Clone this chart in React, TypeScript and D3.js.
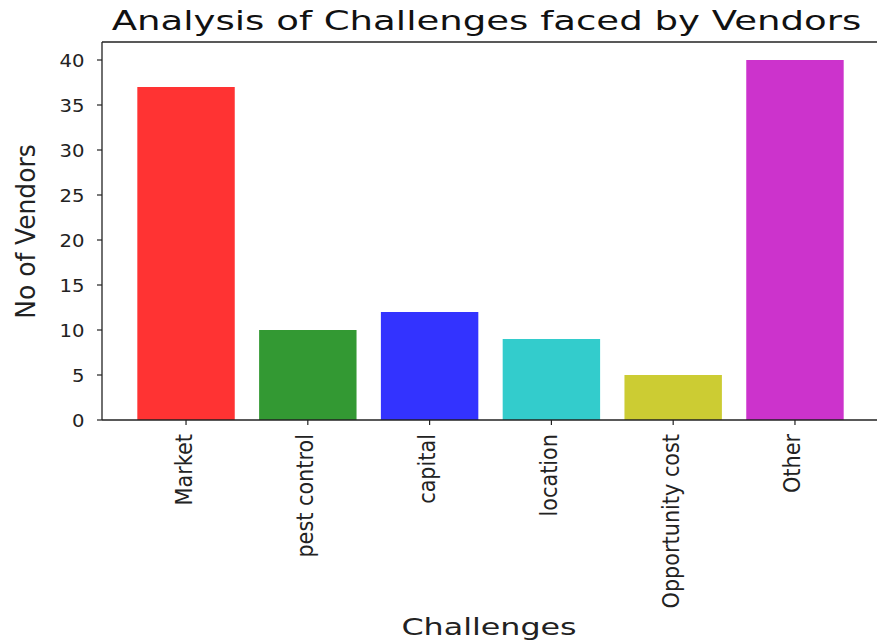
import React from "react";
import * as d3 from "d3";

const categories = ["Market", "pest control", "capital", "location", "Opportunity cost", "Other"];
const values = [37, 10, 12, 9, 5, 40];
const colors = ["#ff3333", "#339933", "#3333ff", "#33cccc", "#cccc33", "#cc33cc"];
const yTicks = [0, 5, 10, 15, 20, 25, 30, 35, 40];
const title = "Analysis of Challenges faced by Vendors";
const xLabel = "Challenges";
const yLabel = "No of Vendors";

const W = 877;
const H = 643;
const left = 102;
const right = 879;
const top = 42;
const bottom = 420;
const font = "DejaVu Sans, sans-serif";

export default function App() {
  const x = d3.scaleLinear().domain([-0.69, categories.length - 1 + 0.69]).range([left, right]);
  const y = d3.scaleLinear().domain([0, 42]).range([bottom, top]);
  const bw = x(0.4) - x(-0.4);
  const ink = "#222";

  return (
    <svg width={W} height={H} style={{ position: "absolute", left: 0, top: 0, background: "#fff" }}>
      <rect x={0} y={0} width={W} height={H} fill="#fff" />
      {values.map((v, i) => (
        <rect key={i} x={x(i) - bw / 2} y={y(v)} width={bw} height={y(0) - y(v)} fill={colors[i]} />
      ))}
      {/* spines */}
      <line x1={left} x2={left} y1={top} y2={bottom} stroke={ink} strokeWidth={1.3} />
      <line x1={left} x2={right} y1={bottom} y2={bottom} stroke={ink} strokeWidth={1.3} />
      <line x1={left} x2={right} y1={top} y2={top} stroke={ink} strokeWidth={1.3} />
      <line x1={right} x2={right} y1={top} y2={bottom} stroke={ink} strokeWidth={1.3} />
      {/* y ticks */}
      {yTicks.map((t) => (
        <g key={t}>
          <line x1={left - 5} x2={left} y1={y(t)} y2={y(t)} stroke={ink} strokeWidth={1.2} />
          <text
            transform={`translate(${84.5},${y(t) + 7}) scale(1.09,1)`}
            textAnchor="end"
            fontFamily={font}
            fontSize={18}
            fill={ink}
          >
            {t}
          </text>
        </g>
      ))}
      {/* x ticks */}
      {categories.map((c, i) => (
        <g key={c}>
          <line x1={x(i)} x2={x(i)} y1={bottom} y2={bottom + 5} stroke={ink} strokeWidth={1.2} />
          <text
            transform={`translate(${x(i) + 5.5},${434}) rotate(-90) scale(0.92,1)`}
            textAnchor="end"
            fontFamily={font}
            fontSize={22.6}
            fill={ink}
          >
            {c}
          </text>
        </g>
      ))}
      {/* title */}
      <text
        transform={`translate(${486.5},${29.5}) scale(1.4,1)`}
        textAnchor="middle"
        fontFamily={font}
        fontSize={26.5}
        fill="#111"
      >
        {title}
      </text>
      {/* x label */}
      <text
        transform={`translate(${489},${635}) scale(1.38,1)`}
        textAnchor="middle"
        fontFamily={font}
        fontSize={23}
        fill={ink}
      >
        {xLabel}
      </text>
      {/* y label */}
      <text
        transform={`translate(${35},${231.5}) rotate(-90) scale(0.91,1)`}
        textAnchor="middle"
        fontFamily={font}
        fontSize={27.4}
        fill={ink}
      >
        {yLabel}
      </text>
    </svg>
  );
}
